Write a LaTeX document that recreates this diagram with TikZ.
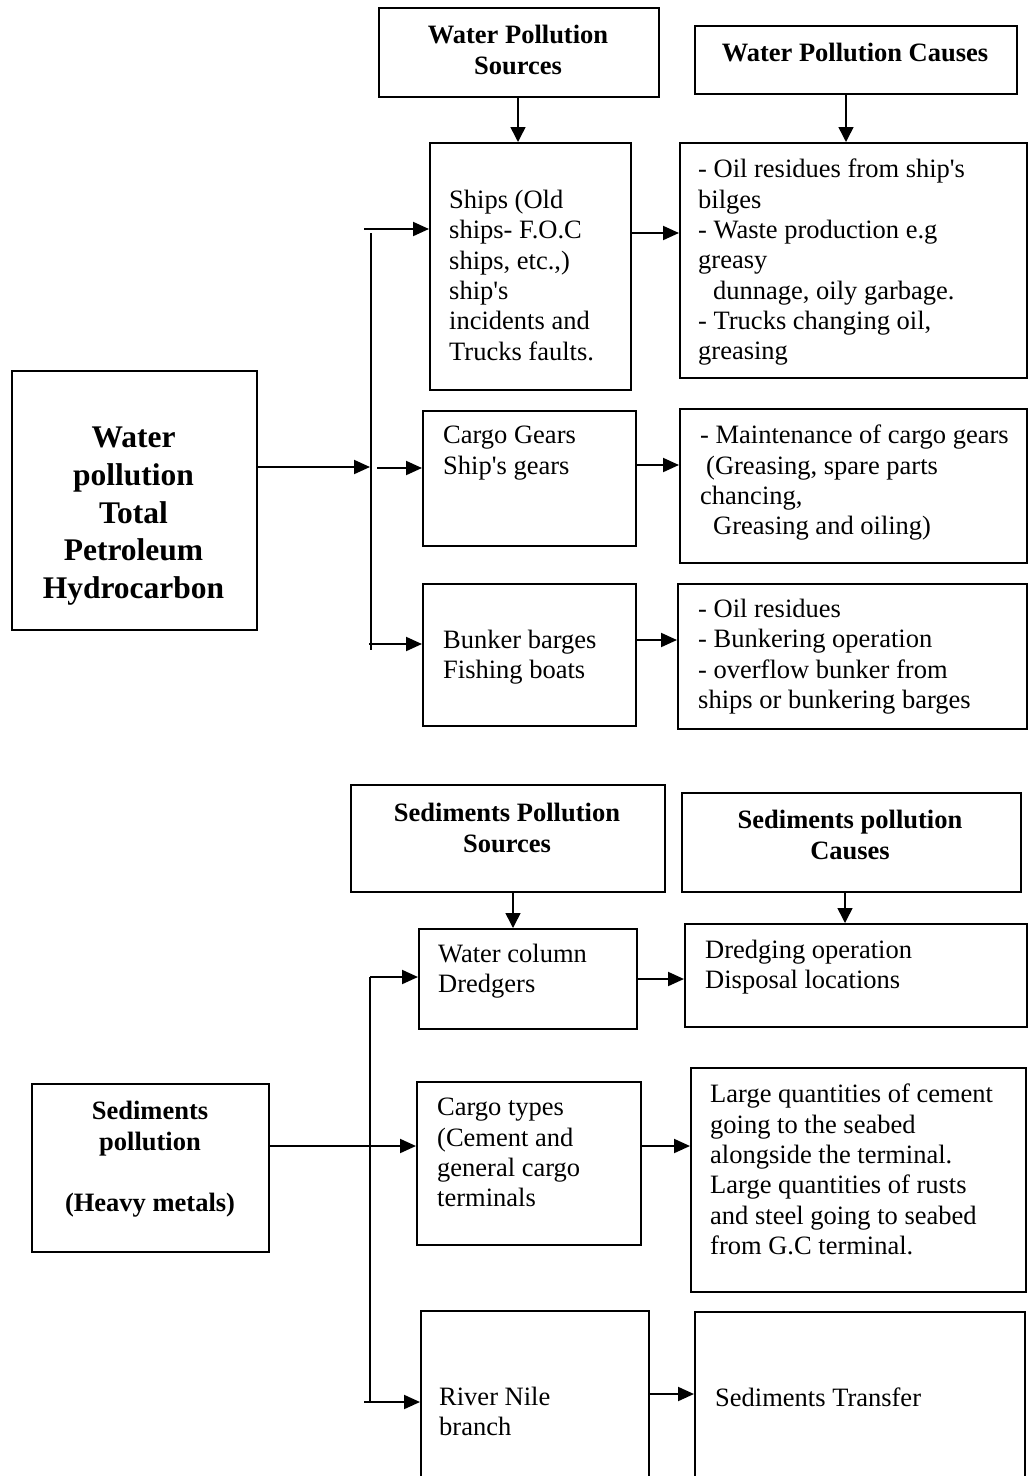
\documentclass[tikz,border=0pt]{standalone}
\usepackage{fontspec}
\setmainfont{Liberation Serif}
\usetikzlibrary{arrows.meta}
\newcommand{\aq}{\textquotesingle}
\begin{document}
\begin{tikzpicture}[x=1pt,y=-1pt,
 box/.style={draw,line width=2pt,inner sep=0pt,anchor=north west},
 txt/.style={anchor=north west,inner sep=0pt,align=left,font=\fontsize{26.5}{30.3}\selectfont},
 hdr/.style={anchor=north,inner sep=0pt,align=center,font=\fontsize{26.5}{30.5}\selectfont\bfseries},
 big/.style={anchor=north,inner sep=0pt,align=center,font=\fontsize{31.5}{37.7}\selectfont\bfseries},
 arr/.style={-{Triangle[length=16pt,width=14pt]},line width=2pt},
 darr/.style={-{Triangle[length=15pt,width=15pt]},line width=1.5pt},
 bus/.style={line width=1.8pt}]
\useasboundingbox (0,0) rectangle (1028,1476);
% ---------- boxes: water section
\node[box,minimum width=280pt,minimum height=89pt] (wps) at (378,7) {};
\node[box,minimum width=322pt,minimum height=68pt] (wpc) at (694,25) {};
\node[box,minimum width=201pt,minimum height=247pt] (ships) at (429,142) {};
\node[box,minimum width=347pt,minimum height=235pt] (c1) at (679,142) {};
\node[box,minimum width=213pt,minimum height=135pt] (cg) at (422,410) {};
\node[box,minimum width=347pt,minimum height=154pt] (c2) at (679,408) {};
\node[box,minimum width=213pt,minimum height=142pt] (bb) at (422,583) {};
\node[box,minimum width=349pt,minimum height=145pt] (c3) at (677,583) {};
\node[box,minimum width=245pt,minimum height=259pt] (m1) at (11,370) {};
% ---------- boxes: sediments section
\node[box,minimum width=314pt,minimum height=107pt] (sps) at (350,784) {};
\node[box,minimum width=339pt,minimum height=99pt] (spc) at (681,792) {};
\node[box,minimum width=218pt,minimum height=100pt] (wc) at (418,928) {};
\node[box,minimum width=342pt,minimum height=103pt] (dr) at (684,923) {};
\node[box,minimum width=237pt,minimum height=168pt] (m2) at (31,1083) {};
\node[box,minimum width=224pt,minimum height=163pt] (ct) at (416,1081) {};
\node[box,minimum width=335pt,minimum height=224pt] (lg) at (690,1067) {};
\node[box,minimum width=228pt,minimum height=200pt] (rn) at (420,1310) {};
\node[box,minimum width=330pt,minimum height=200pt] (st) at (694,1311) {};
% ---------- texts
\node[hdr] (wpsT) at (518,25) {Water Pollution\\Sources};
\node[hdr] (wpcT) at (855,43) {Water Pollution Causes};
\node[txt] (shipsT) at (449,190) {Ships (Old\\ships- F.O.C\\ships, etc.,)\\ship\aq s\\incidents and\\Trucks faults.};
\node[txt] (c1T) at (698,159) {- Oil residues from ship\aq s\\bilges\\- Waste production e.g\\greasy\\\hspace*{15pt}dunnage, oily garbage.\\- Trucks changing oil,\\greasing};
\node[txt] (cgT) at (443,426) {Cargo Gears\\Ship\aq s gears};
\node[txt] (c2T) at (700,425) {- Maintenance of cargo gears\\\hspace*{6pt}(Greasing, spare parts\\chancing,\\\hspace*{13pt}Greasing and oiling)};
\node[txt] (bbT) at (443,630) {Bunker barges\\Fishing boats};
\node[txt] (c3T) at (698,599) {- Oil residues\\- Bunkering operation\\- overflow bunker from\\ships or bunkering barges};
\node[big] (m1T) at (133.5,427) {Water\\pollution\\Total\\Petroleum\\Hydrocarbon};
\node[hdr] (spsT) at (507,803) {Sediments Pollution\\Sources};
\node[hdr] (spcT) at (850,810) {Sediments pollution\\Causes};
\node[txt] (wcT) at (438,944) {Water column\\Dredgers};
\node[txt] (drT) at (705,940) {Dredging operation\\Disposal locations};
\node[hdr] (m2T) at (150,1101) {Sediments\\pollution\\\mbox{}\\(Heavy metals)};
\node[txt] (ctT) at (437,1098) {Cargo types\\(Cement and\\general cargo\\terminals};
\node[txt] (lgT) at (710,1084) {Large quantities of cement\\going to the seabed\\alongside the terminal.\\Large quantities of rusts\\and steel going to seabed\\from G.C terminal.};
\node[txt] (rnT) at (439,1387) {River Nile\\branch};
\node[txt] (stT) at (715,1388) {Sediments Transfer};
% ---------- connectors: water section
\coordinate (v1) at (518,0);
\coordinate (v2) at (846,0);
\draw[darr] (wps.south -| v1) -- (ships.north -| v1);
\draw[darr] (wpc.south -| v2) -- (c1.north -| v2);
\coordinate (b1t) at (371,233);
\coordinate (b1b) at (371,650);
\draw[bus] (b1t) -- (b1b);
\coordinate (h1) at (364,229);
\draw[arr] (h1) -- (ships.west |- h1);
\coordinate (j1) at (370,467);
\draw[arr] (m1.east |- j1) -- (j1);
\coordinate (j2) at (377,468);
\draw[arr] (j2) -- (cg.west |- j2);
\coordinate (j3) at (369,644);
\draw[arr] (j3) -- (bb.west |- j3);
\coordinate (r1) at (0,233);
\draw[arr] (ships.east |- r1) -- (c1.west |- r1);
\coordinate (r2) at (0,465);
\draw[arr] (cg.east |- r2) -- (c2.west |- r2);
\coordinate (r3) at (0,640);
\draw[arr] (bb.east |- r3) -- (c3.west |- r3);
% ---------- connectors: sediments section
\coordinate (v3) at (513,0);
\coordinate (v4) at (845,0);
\draw[darr] (sps.south -| v3) -- (wc.north -| v3);
\draw[darr] (spc.south -| v4) -- (dr.north -| v4);
\coordinate (b2t) at (370,977);
\coordinate (b2b) at (370,1402);
\draw[bus] (b2t) -- (b2b);
\draw[arr] (b2t) -- (wc.west |- b2t);
\coordinate (r4) at (0,979);
\draw[arr] (wc.east |- r4) -- (dr.west |- r4);
\coordinate (r5) at (0,1146);
\draw[arr] (m2.east |- r5) -- (ct.west |- r5);
\draw[arr] (ct.east |- r5) -- (lg.west |- r5);
\coordinate (h2) at (364,1402);
\draw[arr] (h2) -- (rn.west |- h2);
\coordinate (r6) at (0,1394);
\draw[arr] (rn.east |- r6) -- (st.west |- r6);
\end{tikzpicture}
\end{document}
